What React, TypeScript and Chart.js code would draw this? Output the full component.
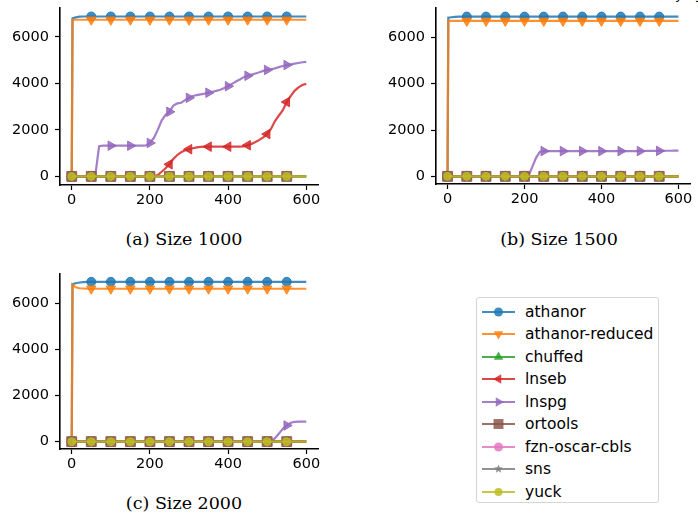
import React, { useEffect, useRef } from "react";
import { Chart, registerables } from "chart.js";

Chart.register(...registerables);

// ---------- data ----------
const TIME = [
  0, 2, 10, 20, 30, 40, 50, 60, 70, 80, 90, 100, 110, 120, 130, 140, 150, 160, 170, 180, 190,
  200, 210, 220, 230, 240, 250, 260, 270, 280, 290, 300, 310, 320, 330, 340, 350, 360, 370, 380,
  390, 400, 410, 420, 430, 440, 450, 460, 470, 480, 490, 500, 510, 520, 530, 540, 550, 560, 570,
  580, 590, 600,
];

const X_TICKS = [0, 200, 400, 600];
const Y_TICKS = [0, 2000, 4000, 6000];

const SERIES_NAMES = [
  "athanor",
  "athanor-reduced",
  "chuffed",
  "lnseb",
  "lnspg",
  "ortools",
  "fzn-oscar-cbls",
  "sns",
  "yuck",
];

const COLORS = [
  "31,119,180",
  "255,127,14",
  "44,160,44",
  "214,39,40",
  "148,103,189",
  "140,86,75",
  "227,119,194",
  "127,127,127",
  "188,189,34",
];

const ZEROS = [
  0, 0, 0, 0, 0, 0, 0, 0, 0, 0, 0, 0, 0, 0, 0, 0, 0, 0, 0, 0, 0, 0, 0, 0, 0, 0, 0, 0, 0, 0, 0, 0,
  0, 0, 0, 0, 0, 0, 0, 0, 0, 0, 0, 0, 0, 0, 0, 0, 0, 0, 0, 0, 0, 0, 0, 0, 0, 0, 0, 0, 0, 0,
];
const NO_DATA: number[] = [];

// Panel (a) Size 1000
const ATHANOR_A = [
  0, 6800, 6840, 6870, 6880, 6880, 6880, 6880, 6880, 6880, 6880, 6880, 6880, 6880, 6880, 6880,
  6880, 6880, 6880, 6880, 6880, 6880, 6880, 6880, 6880, 6880, 6880, 6880, 6880, 6880, 6880, 6880,
  6880, 6880, 6880, 6880, 6880, 6880, 6880, 6880, 6880, 6880, 6880, 6880, 6880, 6880, 6880, 6880,
  6880, 6880, 6880, 6880, 6880, 6880, 6880, 6880, 6880, 6880, 6880, 6880, 6880, 6880,
];
const REDUCED_A = [
  0, 6740, 6740, 6740, 6740, 6740, 6740, 6740, 6740, 6740, 6740, 6740, 6740, 6740, 6740, 6740,
  6740, 6740, 6740, 6740, 6740, 6740, 6740, 6740, 6740, 6740, 6740, 6740, 6740, 6740, 6740, 6740,
  6740, 6740, 6740, 6740, 6740, 6740, 6740, 6740, 6740, 6740, 6740, 6740, 6740, 6740, 6740, 6740,
  6740, 6740, 6740, 6740, 6740, 6740, 6740, 6740, 6740, 6740, 6740, 6740, 6740, 6740,
];
const LNSEB_A = [
  0, 0, 0, 0, 0, 0, 0, 0, 0, 0, 0, 0, 0, 0, 0, 0, 0, 0, 0, 0, 0, 0, 0, 60, 200, 350, 520, 750, 920,
  1040, 1120, 1170, 1210, 1250, 1270, 1280, 1280, 1280, 1280, 1280, 1280, 1280, 1280, 1280, 1280,
  1290, 1340, 1400, 1480, 1570, 1680, 1820, 2050, 2380, 2620, 2850, 3200, 3450, 3680, 3830, 3930,
  3980,
];
const LNSPG_A = [
  0, 0, 0, 0, 0, 0, 0, 0, 1300, 1320, 1320, 1320, 1320, 1320, 1320, 1320, 1320, 1320, 1320, 1320,
  1330, 1440, 1650, 2000, 2400, 2650, 2780, 3050, 3140, 3170, 3280, 3380, 3460, 3500, 3530, 3560,
  3600, 3640, 3680, 3730, 3800, 3880, 3980, 4080, 4170, 4270, 4330, 4380, 4430, 4480, 4540, 4580,
  4610, 4650, 4700, 4750, 4790, 4820, 4850, 4880, 4910, 4930,
];

// Panel (b) Size 1500
const ATHANOR_B = [
  0, 6850, 6870, 6890, 6900, 6900, 6900, 6900, 6900, 6900, 6900, 6900, 6900, 6900, 6900, 6900,
  6900, 6900, 6900, 6900, 6900, 6900, 6900, 6900, 6900, 6900, 6900, 6900, 6900, 6900, 6900, 6900,
  6900, 6900, 6900, 6900, 6900, 6900, 6900, 6900, 6900, 6900, 6900, 6900, 6900, 6900, 6900, 6900,
  6900, 6900, 6900, 6900, 6900, 6900, 6900, 6900, 6900, 6900, 6900, 6900, 6900, 6900,
];
const REDUCED_B = [
  0, 6710, 6710, 6710, 6710, 6710, 6710, 6710, 6710, 6710, 6710, 6710, 6710, 6710, 6710, 6710,
  6710, 6710, 6710, 6710, 6710, 6710, 6710, 6710, 6710, 6710, 6710, 6710, 6710, 6710, 6710, 6710,
  6710, 6710, 6710, 6710, 6710, 6710, 6710, 6710, 6710, 6710, 6710, 6710, 6710, 6710, 6710, 6710,
  6710, 6710, 6710, 6710, 6710, 6710, 6710, 6710, 6710, 6710, 6710, 6710, 6710, 6710,
];
const LNSPG_B = [
  0, 0, 0, 0, 0, 0, 0, 0, 0, 0, 0, 0, 0, 0, 0, 0, 0, 0, 0, 0, 0, 0, 0, 400, 800, 1060, 1090, 1090,
  1090, 1090, 1090, 1090, 1090, 1090, 1090, 1090, 1090, 1090, 1090, 1090, 1090, 1090, 1090, 1090,
  1090, 1090, 1090, 1090, 1090, 1090, 1090, 1090, 1095, 1100, 1100, 1100, 1100, 1100, 1105, 1105,
  1110, 1110,
];

// Panel (c) Size 2000
const ATHANOR_C = [
  0, 6840, 6880, 6910, 6930, 6940, 6940, 6940, 6940, 6940, 6940, 6940, 6940, 6940, 6940, 6940,
  6940, 6940, 6940, 6940, 6940, 6940, 6940, 6940, 6940, 6940, 6940, 6940, 6940, 6940, 6940, 6940,
  6940, 6940, 6940, 6940, 6940, 6940, 6940, 6940, 6940, 6940, 6940, 6940, 6940, 6940, 6940, 6940,
  6940, 6940, 6940, 6940, 6940, 6940, 6940, 6940, 6940, 6940, 6940, 6940, 6940, 6940,
];
const REDUCED_C = [
  0, 6820, 6700, 6660, 6650, 6640, 6640, 6640, 6640, 6640, 6640, 6640, 6640, 6640, 6640, 6640,
  6640, 6640, 6640, 6640, 6640, 6640, 6640, 6640, 6640, 6640, 6640, 6640, 6640, 6640, 6640, 6640,
  6640, 6640, 6640, 6640, 6640, 6640, 6640, 6640, 6640, 6640, 6640, 6640, 6640, 6640, 6640, 6640,
  6640, 6640, 6640, 6640, 6640, 6640, 6640, 6640, 6640, 6640, 6640, 6640, 6640, 6640,
];
const LNSPG_C = [
  0, 0, 0, 0, 0, 0, 0, 0, 0, 0, 0, 0, 0, 0, 0, 0, 0, 0, 0, 0, 0, 0, 0, 0, 0, 0, 0, 0, 0, 0, 0, 0, 0,
  0, 0, 0, 0, 0, 0, 0, 0, 0, 0, 0, 0, 0, 0, 0, 0, 0, 0, 0, 0, 150, 350, 560, 700, 820, 860, 865, 865,
  865,
];

// ---------- styling ----------
type MarkerSpec = { style: string; rotation: number; radius: number };
const MARKERS: MarkerSpec[] = [
  { style: "circle", rotation: 0, radius: 4.5 },
  { style: "triangle", rotation: 180, radius: 5.5 },
  { style: "triangle", rotation: 0, radius: 5.5 },
  { style: "triangle", rotation: -90, radius: 5.5 },
  { style: "triangle", rotation: 90, radius: 5.5 },
  { style: "rect", rotation: 0, radius: 7 },
  { style: "circle", rotation: 0, radius: 4.5 },
  { style: "star", rotation: 0, radius: 4.5 },
  { style: "circle", rotation: 0, radius: 4 },
];

const TICK_FONT = { family: "'DejaVu Sans', sans-serif", size: 14.5 };

type PanelProps = {
  series: number[][];
  left: number;
  top: number;
  width: number;
  height: number;
  padTop: number;
  padRight: number;
  xAxisHeight: number;
  yMin: number;
  yMax: number;
};

function Panel(p: PanelProps) {
  const ref = useRef<HTMLCanvasElement | null>(null);
  useEffect(() => {
    if (!ref.current) return;
    const n = SERIES_NAMES.length;
    const datasets = SERIES_NAMES.map((name, i) => {
      const vals = p.series[i];
      const m = MARKERS[i];
      const c = `rgba(${COLORS[i]},0.85)`;
      return {
        label: name,
        data: vals.map((v, k) => ({ x: TIME[k], y: v })),
        borderColor: c,
        backgroundColor: c,
        borderWidth: 2.2,
        pointStyle: m.style as any,
        pointRotation: m.rotation,
        pointBackgroundColor: c,
        pointBorderColor: c,
        pointBorderWidth: 1,
        pointRadius: (ctx: any) => {
          const t = TIME[ctx.dataIndex];
          return t % 50 === 0 && t < 600 ? m.radius : 0;
        },
        tension: 0,
        order: n - i,
      };
    });
    const chart = new Chart(ref.current, {
      type: "line",
      data: { datasets: datasets as any },
      options: {
        responsive: false,
        animation: false,
        devicePixelRatio: 1,
        events: [],
        layout: { padding: { top: p.padTop, right: p.padRight, left: 0, bottom: 0 } },
        plugins: { legend: { display: false }, tooltip: { enabled: false } },
        scales: {
          x: {
            type: "linear",
            min: -30,
            max: 630,
            afterBuildTicks: (s: any) => {
              s.ticks = X_TICKS.map((v) => ({ value: v }));
            },
            afterFit: (s: any) => {
              s.height = p.xAxisHeight;
              s.paddingLeft = 0;
              s.paddingRight = 0;
            },
            grid: {
              drawOnChartArea: false,
              drawTicks: true,
              tickLength: 5,
              tickColor: "#000",
              tickWidth: 1.2,
            },
            border: { display: true, color: "#000", width: 1.6 },
            ticks: {
              color: "#000",
              font: TICK_FONT,
              padding: 2,
              maxRotation: 0,
              autoSkip: false,
              callback: (v: any) => String(v),
            },
          },
          y: {
            type: "linear",
            min: p.yMin,
            max: p.yMax,
            afterBuildTicks: (s: any) => {
              s.ticks = Y_TICKS.map((v) => ({ value: v }));
            },
            afterFit: (s: any) => {
              s.width = 60;
              s.paddingTop = 0;
              s.paddingBottom = 0;
            },
            grid: {
              drawOnChartArea: false,
              drawTicks: true,
              tickLength: 5,
              tickColor: "#000",
              tickWidth: 1.2,
            },
            border: { display: true, color: "#000", width: 1.6 },
            ticks: {
              color: "#000",
              font: TICK_FONT,
              padding: 6,
              autoSkip: false,
              callback: (v: any) => String(v),
            },
          },
        },
      } as any,
    });
    return () => chart.destroy();
  }, []);
  return (
    <canvas
      ref={ref}
      width={p.width}
      height={p.height}
      style={{ position: "absolute", left: p.left, top: p.top, width: p.width, height: p.height }}
    />
  );
}

function markerShape(i: number, cx: number, cy: number) {
  const m = MARKERS[i];
  const fill = `rgba(${COLORS[i]},0.85)`;
  if (m.style === "circle") return <circle cx={cx} cy={cy} r={m.radius} fill={fill} />;
  if (m.style === "rect") {
    const h = m.radius * Math.SQRT1_2;
    return <rect x={cx - h} y={cy - h} width={2 * h} height={2 * h} fill={fill} />;
  }
  if (m.style === "triangle") {
    const pts: string[] = [];
    for (let k = 0; k < 3; k++) {
      const a = ((m.rotation + k * 120) * Math.PI) / 180;
      pts.push(`${cx + Math.sin(a) * m.radius},${cy - Math.cos(a) * m.radius}`);
    }
    return <polygon points={pts.join(" ")} fill={fill} />;
  }
  // star
  const pts: string[] = [];
  for (let k = 0; k < 10; k++) {
    const a = (k * 36 * Math.PI) / 180;
    const r = k % 2 === 0 ? m.radius : m.radius * 0.45;
    pts.push(`${cx + Math.sin(a) * r},${cy - Math.cos(a) * r}`);
  }
  return <polygon points={pts.join(" ")} fill={fill} />;
}

function Legend() {
  return (
    <div
      style={{
        position: "absolute",
        left: 476,
        top: 297,
        width: 183,
        height: 206,
        border: "1px solid #d5d5d5",
        borderRadius: 3,
        background: "#fff",
        boxSizing: "border-box",
      }}
    >
      {SERIES_NAMES.map((name, i) => (
        <div
          key={name}
          style={{ position: "absolute", left: 0, top: 2.5 + 22.5 * i, height: 22, width: 180 }}
        >
          <svg width={40} height={22} style={{ position: "absolute", left: 4, top: 0 }}>
            <line
              x1={1}
              y1={11}
              x2={34}
              y2={11}
              stroke={`rgba(${COLORS[i]},0.85)`}
              strokeWidth={2.2}
            />
            {markerShape(i, 17.5, 11)}
          </svg>
          <span
            style={{
              position: "absolute",
              left: 48,
              top: 0,
              lineHeight: "22px",
              fontFamily: "'DejaVu Sans', sans-serif",
              fontSize: 15.5,
              color: "#000",
              whiteSpace: "nowrap",
            }}
          >
            {name}
          </span>
        </div>
      ))}
    </div>
  );
}

const captionStyle = (left: number, top: number): React.CSSProperties => ({
  position: "absolute",
  left: left - 100,
  top,
  width: 200,
  textAlign: "center",
  fontFamily: "'DejaVu Serif', serif",
  fontSize: 17.5,
  lineHeight: "20px",
  color: "#000",
  whiteSpace: "nowrap",
});

export default function App() {
  const seriesA = [ATHANOR_A, REDUCED_A, ZEROS, LNSEB_A, LNSPG_A, ZEROS, NO_DATA, NO_DATA, ZEROS];
  const seriesB = [ATHANOR_B, REDUCED_B, ZEROS, ZEROS, LNSPG_B, ZEROS, NO_DATA, NO_DATA, ZEROS];
  const seriesC = [ATHANOR_C, REDUCED_C, ZEROS, ZEROS, LNSPG_C, ZEROS, NO_DATA, NO_DATA, ZEROS];
  return (
    <div
      style={{
        position: "absolute",
        left: 0,
        top: 0,
        width: 698,
        height: 518,
        background: "#fff",
        overflow: "hidden",
      }}
    >
      <div
        style={{
          position: "absolute",
          left: 654,
          top: -13,
          fontFamily: "'DejaVu Sans', sans-serif",
          fontSize: 13,
          whiteSpace: "nowrap",
        }}
      >
        varying
      </div>
      <Panel
        series={seriesA}
        left={0}
        top={0}
        width={330}
        height={215}
        padTop={5}
        padRight={12}
        xAxisHeight={30}
        yMin={-370}
        yMax={7245}
      />
      <Panel
        series={seriesB}
        left={376}
        top={0}
        width={322}
        height={215}
        padTop={5}
        padRight={5}
        xAxisHeight={31}
        yMin={-330}
        yMax={7270}
      />
      <Panel
        series={seriesC}
        left={0}
        top={266}
        width={330}
        height={213}
        padTop={6}
        padRight={12}
        xAxisHeight={30}
        yMin={-320}
        yMax={7280}
      />
      <div style={captionStyle(184, 229)}>(a) Size 1000</div>
      <div style={captionStyle(559, 229)}>(b) Size 1500</div>
      <div style={captionStyle(184, 493)}>(c) Size 2000</div>
      <Legend />
    </div>
  );
}
